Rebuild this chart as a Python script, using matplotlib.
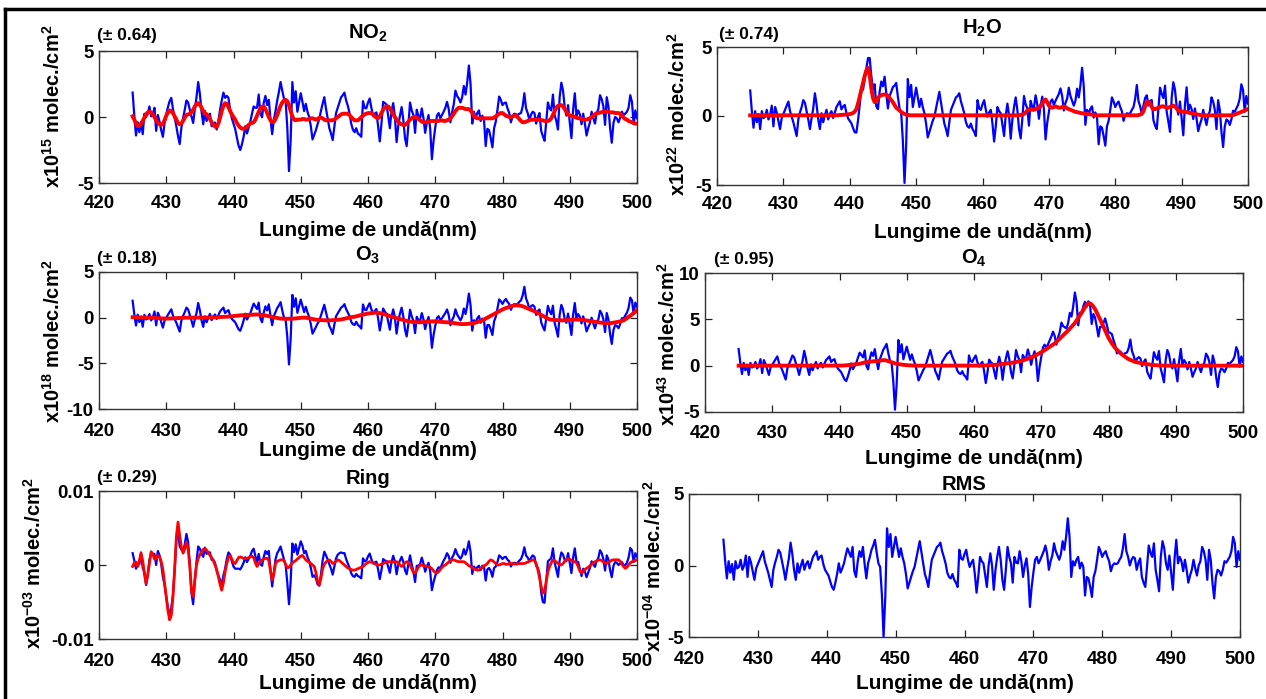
import numpy as np
import matplotlib
matplotlib.use("Agg")
import matplotlib.pyplot as plt
from matplotlib.lines import Line2D

plt.rcParams['font.family'] = ['Liberation Sans', 'DejaVu Sans']
plt.rcParams['font.weight'] = 'bold'
plt.rcParams['mathtext.fontset'] = 'custom'
plt.rcParams['mathtext.rm'] = 'Liberation Sans:bold'
plt.rcParams['mathtext.bf'] = 'Liberation Sans:bold'
plt.rcParams['mathtext.it'] = 'Liberation Sans:bold'
plt.rcParams['mathtext.default'] = 'rm'
plt.rcParams['axes.unicode_minus'] = False

# ---------------- data ----------------
# wavelength grid, 425 .. 500 nm every 0.25 nm
WAVELENGTH = np.linspace(425.0, 500.0, 301)

# residual of the fit (RMS panel, x10^-4), one row per nm
RESIDUAL = [
    1.8, 0.3, -0.9, 0.3,
    -0.5, 0.1, -1.0, 0.3,
    -0.2, -0.1, 0.4, -0.3,
    0.0, 0.7, -0.8, 0.6,
    0.2, -0.4, -1.0, -0.2,
    0.1, 0.4, 0.7, 1.0,
    0.3, -0.1, -0.5, -1.0,
    -1.5, -0.3, 0.2, 0.6,
    1.1, 0.9, 0.3, -0.3,
    -1.0, -0.2, 0.5, 1.6,
    0.8, -0.3, -1.0, 0.15,
    -0.5, 0.0, 0.4, -0.3,
    0.1, 0.3, -0.2, 0.2,
    0.6, 0.8, 1.0, 0.4,
    0.6, 0.7, 0.1, -0.3,
    -0.5, -0.7, -1.1, -1.5,
    -1.7, -1.2, -0.6, 0.15,
    -0.5, -0.2, 0.15, 0.7,
    1.2, 0.9, 0.6, 1.3,
    -0.4, -0.8, 0.3, 1.0,
    0.6, 1.3, 0.1, -0.9,
    0.15, 0.6, 1.1, 1.4,
    1.8, 0.9, 0.15, -0.1,
    -2.0, -5.0, -2.2, 2.6,
    1.3, 2.2, 0.6, 1.3,
    2.0, 1.3, 0.6, 1.2,
    0.6, 0.15, -0.6, -1.6,
    -1.2, -0.8, -0.4, -0.1,
    0.5, 1.1, 1.7, 0.9,
    0.15, -0.6, -1.0, -1.5,
    -0.5, 0.4, 0.7, 1.0,
    1.3, 1.4, 1.6, 1.0,
    0.6, 0.15, -0.5, -0.8,
    -0.9, -0.6, -1.0, -1.2,
    -1.5, 1.1, 0.5, 0.4,
    0.8, 1.1, 0.4, -0.1,
    0.2, 0.4, -0.6, -1.9,
    -0.8, 0.6, 0.3, 0.15,
    -0.7, -1.5, 0.0, 0.85,
    0.0, -1.7, -0.3, 0.6,
    1.3, 0.4, -1.0, -1.7,
    -0.3, 1.3, 0.6, 0.15,
    -1.2, 0.6, 0.2, 0.15,
    1.0, 0.3, -0.8, 0.0,
    0.5, -0.6, -2.9, -1.5,
    -0.5, 0.4, 0.6, 0.15,
    0.4, 0.7, 1.0, 1.4,
    0.8, -0.3, 0.3, 0.7,
    1.55, 1.0, 0.7, 0.4,
    0.8, 1.7, 1.1, 2.0,
    3.3, 2.0, -0.8, 0.3,
    0.0, 0.4, 0.6, -0.2,
    0.2, -0.1, -2.1, -0.8,
    -0.9, -1.5, -2.2, -0.8,
    -0.4, 0.4, 1.3, 1.0,
    0.6, 0.85, 1.0, 0.6,
    0.3, -0.4, 0.0, 0.15,
    0.1, 0.15, 0.4, 0.6,
    1.2, 2.2, 1.0, 0.6,
    0.0, 0.4, 0.6, 0.5,
    -0.3, 0.2, 0.5, -0.8,
    -1.2, -1.5, -0.1, 1.4,
    0.9, 0.6, 1.55, -0.3,
    -1.0, -1.8, 0.6, 1.7,
    1.2, 0.15, -0.3, 0.7,
    -0.5, -1.7, 0.5, 1.8,
    0.15, 0.6, 0.3, -0.4,
    0.4, -0.3, -1.2, -0.7,
    -0.3, 0.4, -0.2, -0.7,
    0.0, 0.3, 1.3, 1.0,
    0.4, -1.0, 1.1, 0.4,
    -1.2, -2.3, -0.8, -0.3,
    -0.4, -0.7, -0.3, 0.3,
    0.2, 0.4, 0.6, 1.0,
    2.0, 1.55, -0.1, 1.0,
    0.4,
]

# fitted cross sections (red curves), one row per nm
FIT_NO2 = [
    0.05, -0.2, -0.5, -0.7,
    -0.65, -0.5, -0.3, -0.05,
    0.2, 0.35, 0.4, 0.35,
    0.2, 0.0, -0.25, -0.45,
    -0.55, -0.6, -0.5, -0.25,
    0.1, 0.35, 0.5, 0.45,
    0.3, 0.05, -0.2, -0.45,
    -0.55, -0.5, -0.3, -0.05,
    0.15, 0.2, 0.25, 0.35,
    0.55, 0.8, 1.0, 1.05,
    0.95, 0.7, 0.45, 0.3,
    0.2, 0.05, -0.15, -0.4,
    -0.6, -0.72, -0.75, -0.5,
    -0.05, 0.45, 0.85, 1.05,
    1.0, 0.75, 0.45, 0.2,
    0.0, -0.2, -0.45, -0.65,
    -0.8, -0.88, -0.9, -0.85,
    -0.75, -0.6, -0.5, -0.45,
    -0.4, -0.2, 0.1, 0.4,
    0.65, 0.78, 0.8, 0.6,
    0.3, 0.0, -0.25, -0.4,
    -0.35, -0.15, 0.15, 0.5,
    0.85, 1.1, 1.25, 1.3,
    1.2, 0.9, 0.45, 0.05,
    -0.2, -0.25, -0.2, -0.2,
    -0.2, -0.15, -0.15, -0.2,
    -0.2, -0.15, -0.1, -0.1,
    -0.15, -0.2, -0.15, -0.05,
    -0.05, -0.1, -0.2, -0.25,
    -0.25, -0.25, -0.25, -0.25,
    -0.2, -0.1, 0.0, 0.1,
    0.2, 0.25, 0.25, 0.25,
    0.25, 0.15, 0.0, -0.15,
    -0.25, -0.25, -0.25, -0.15,
    0.0, 0.1, 0.2, 0.25,
    0.3, 0.3, 0.3, 0.2,
    0.05, -0.05, -0.1, 0.05,
    0.3, 0.55, 0.75, 0.8,
    0.8, 0.65, 0.45, 0.2,
    0.0, -0.2, -0.35, -0.5,
    -0.55, -0.6, -0.6, -0.5,
    -0.35, -0.2, -0.1, 0.0,
    0.0, -0.05, -0.15, -0.25,
    -0.35, -0.4, -0.4, -0.4,
    -0.35, -0.3, -0.3, -0.3,
    -0.3, -0.3, -0.3, -0.25,
    -0.25, -0.3, -0.3, -0.25,
    -0.2, -0.1, 0.05, 0.25,
    0.45, 0.6, 0.7, 0.7,
    0.7, 0.65, 0.6, 0.6,
    0.6, 0.5, 0.3, 0.1,
    -0.05, -0.1, -0.1, -0.1,
    -0.1, -0.1, -0.1, -0.1,
    -0.1, -0.1, -0.1, -0.05,
    0.05, 0.15, 0.25, 0.3,
    0.3, 0.2, 0.1, 0.05,
    0.0, 0.0, 0.05, 0.1,
    0.1, 0.0, -0.15, -0.3,
    -0.4, -0.4, -0.35, -0.3,
    -0.25, -0.2, -0.2, -0.2,
    -0.2, -0.2, -0.2, -0.25,
    -0.25, -0.3, -0.3, -0.3,
    -0.25, -0.1, 0.15, 0.45,
    0.7, 0.85, 0.9, 0.9,
    0.8, 0.6, 0.4, 0.2,
    0.1, 0.1, 0.05, 0.0,
    -0.05, -0.1, -0.1, -0.15,
    -0.15, -0.2, -0.2, -0.15,
    -0.1, 0.0, 0.1, 0.2,
    0.3, 0.3, 0.35, 0.35,
    0.4, 0.4, 0.4, 0.4,
    0.35, 0.35, 0.35, 0.3,
    0.3, 0.3, 0.25, 0.1,
    -0.05, -0.15, -0.2, -0.3,
    -0.35, -0.4, -0.45, -0.5,
    -0.5,
]

FIT_H2O = [
    0.05, 0.05, 0.05, 0.05,
    0.05, 0.05, 0.05, 0.05,
    0.05, 0.05, 0.05, 0.05,
    0.05, 0.05, 0.05, 0.05,
    0.05, 0.05, 0.05, 0.05,
    0.05, 0.05, 0.05, 0.05,
    0.05, 0.05, 0.05, 0.05,
    0.05, 0.05, 0.05, 0.05,
    0.05, 0.05, 0.05, 0.05,
    0.05, 0.05, 0.05, 0.05,
    0.05, 0.05, 0.05, 0.05,
    0.05, 0.05, 0.05, 0.05,
    0.05, 0.05, 0.05, 0.05,
    0.05, 0.06, 0.07, 0.08,
    0.09, 0.10, 0.11, 0.12,
    0.14, 0.17, 0.22, 0.32,
    0.5, 0.9, 1.4, 1.9,
    2.4, 2.9, 3.3, 3.5,
    3.0, 2.0, 1.3, 1.0,
    1.1, 1.3, 1.45, 1.5,
    1.55, 1.55, 1.55, 1.45,
    1.3, 1.15, 1.0, 0.8,
    0.6, 0.5, 0.4, 0.3,
    0.2, 0.15, 0.1, 0.08,
    0.06, 0.05, 0.05, 0.05,
    0.05, 0.05, 0.05, 0.05,
    0.05, 0.05, 0.05, 0.05,
    0.05, 0.05, 0.05, 0.05,
    0.05, 0.05, 0.05, 0.05,
    0.05, 0.05, 0.05, 0.05,
    0.05, 0.05, 0.05, 0.05,
    0.05, 0.05, 0.05, 0.05,
    0.05, 0.05, 0.05, 0.05,
    0.05, 0.05, 0.05, 0.05,
    0.05, 0.05, 0.05, 0.05,
    0.05, 0.05, 0.05, 0.05,
    0.05, 0.05, 0.05, 0.05,
    0.05, 0.05, 0.05, 0.05,
    0.05, 0.05, 0.05, 0.05,
    0.05, 0.05, 0.05, 0.05,
    0.05, 0.05, 0.06, 0.08,
    0.1, 0.15, 0.25, 0.4,
    0.5, 0.5, 0.45, 0.45,
    0.5, 0.55, 0.6, 0.75,
    0.9, 1.1, 1.2, 1.0,
    0.75, 0.65, 0.6, 0.65,
    0.7, 0.65, 0.6, 0.6,
    0.65, 0.7, 0.65, 0.55,
    0.5, 0.45, 0.4, 0.35,
    0.3, 0.28, 0.25, 0.22,
    0.2, 0.18, 0.16, 0.15,
    0.13, 0.12, 0.1, 0.08,
    0.06, 0.05, 0.05, 0.05,
    0.05, 0.05, 0.05, 0.05,
    0.05, 0.05, 0.05, 0.05,
    0.05, 0.05, 0.05, 0.05,
    0.05, 0.05, 0.05, 0.05,
    0.05, 0.05, 0.05, 0.05,
    0.05, 0.05, 0.07, 0.1,
    0.15, 0.35, 0.7, 1.0,
    1.05, 0.9, 0.65, 0.5,
    0.5, 0.55, 0.6, 0.65,
    0.7, 0.7, 0.65, 0.6,
    0.6, 0.65, 0.7, 0.75,
    0.7, 0.55, 0.4, 0.35,
    0.35, 0.3, 0.3, 0.28,
    0.25, 0.22, 0.2, 0.18,
    0.15, 0.12, 0.1, 0.08,
    0.06, 0.05, 0.05, 0.05,
    0.05, 0.05, 0.05, 0.05,
    0.05, 0.05, 0.05, 0.05,
    0.05, 0.05, 0.05, 0.05,
    0.05, 0.05, 0.06, 0.08,
    0.1, 0.15, 0.2, 0.25,
    0.3, 0.35, 0.4, 0.45,
    0.5,
]

FIT_O3 = [
    0.05, 0.05, 0.04, 0.03,
    0.02, 0.02, 0.01, 0.01,
    0.0, 0.0, 0.0, 0.0,
    0.0, -0.02, -0.04, -0.06,
    -0.07, -0.08, -0.09, -0.1,
    -0.1, -0.1, -0.09, -0.08,
    -0.07, -0.06, -0.05, -0.04,
    -0.03, -0.02, -0.01, 0.0,
    0.0, 0.0, 0.0, 0.0,
    0.0, 0.0, 0.0, 0.0,
    0.0, 0.0, 0.0, 0.0,
    0.0, 0.01, 0.02, 0.03,
    0.04, 0.05, 0.06, 0.07,
    0.08, 0.09, 0.1, 0.1,
    0.1, 0.12, 0.14, 0.16,
    0.18, 0.2, 0.22, 0.24,
    0.26, 0.27, 0.28, 0.29,
    0.3, 0.31, 0.32, 0.33,
    0.34, 0.35, 0.35, 0.34,
    0.32, 0.3, 0.27, 0.24,
    0.2, 0.16, 0.12, 0.08,
    0.04, 0.0, -0.04, -0.07,
    -0.1, -0.11, -0.12, -0.12,
    -0.12, -0.12, -0.11, -0.11,
    -0.1, -0.08, -0.06, -0.04,
    -0.02, 0.0, 0.0, 0.0,
    -0.03, -0.07, -0.11, -0.15,
    -0.2, -0.22, -0.24, -0.26,
    -0.27, -0.28, -0.29, -0.3,
    -0.3, -0.3, -0.29, -0.28,
    -0.26, -0.24, -0.22, -0.21,
    -0.2, -0.16, -0.12, -0.07,
    -0.03, 0.02, 0.06, 0.08,
    0.1, 0.15, 0.2, 0.25,
    0.3, 0.34, 0.38, 0.42,
    0.45, 0.48, 0.51, 0.53,
    0.55, 0.55, 0.53, 0.5,
    0.45, 0.4, 0.35, 0.3,
    0.25, 0.18, 0.12, 0.06,
    0.0, -0.05, -0.1, -0.15,
    -0.2, -0.25, -0.3, -0.35,
    -0.4, -0.43, -0.46, -0.48,
    -0.49, -0.5, -0.5, -0.5,
    -0.5, -0.48, -0.46, -0.44,
    -0.42, -0.41, -0.4, -0.4,
    -0.4, -0.42, -0.44, -0.46,
    -0.47, -0.48, -0.49, -0.5,
    -0.5, -0.53, -0.56, -0.6,
    -0.63, -0.66, -0.68, -0.7,
    -0.7, -0.7, -0.7, -0.68,
    -0.66, -0.64, -0.62, -0.58,
    -0.54, -0.48, -0.42, -0.36,
    -0.3, -0.2, -0.1, 0.0,
    0.1, 0.2, 0.3, 0.4,
    0.5, 0.6, 0.7, 0.8,
    0.9, 0.98, 1.05, 1.12,
    1.2, 1.25, 1.3, 1.33,
    1.35, 1.35, 1.33, 1.3,
    1.25, 1.18, 1.1, 1.02,
    0.95, 0.86, 0.78, 0.7,
    0.6, 0.5, 0.4, 0.3,
    0.2, 0.1, 0.0, -0.1,
    -0.2, -0.22, -0.24, -0.26,
    -0.27, -0.28, -0.29, -0.3,
    -0.3, -0.29, -0.27, -0.25,
    -0.22, -0.2, -0.2, -0.2,
    -0.2, -0.21, -0.22, -0.23,
    -0.25, -0.28, -0.31, -0.34,
    -0.37, -0.4, -0.43, -0.47,
    -0.5, -0.52, -0.54, -0.56,
    -0.57, -0.58, -0.59, -0.6,
    -0.6, -0.58, -0.55, -0.52,
    -0.5, -0.45, -0.4, -0.35,
    -0.3, -0.18, -0.05, 0.08,
    0.2, 0.35, 0.5, 0.65,
    0.8,
]

FIT_O4 = [
    0.0, 0.0, 0.0, 0.0,
    0.0, 0.0, 0.0, 0.0,
    0.0, 0.0, 0.0, 0.0,
    0.0, 0.0, 0.0, 0.0,
    0.0, 0.0, 0.0, 0.0,
    0.0, 0.0, 0.0, 0.0,
    0.0, 0.0, 0.0, 0.0,
    0.0, 0.0, 0.0, 0.0,
    0.0, 0.0, 0.0, 0.0,
    0.0, 0.0, 0.0, 0.0,
    0.0, 0.0, 0.0, 0.0,
    0.0, 0.0, 0.0, 0.0,
    0.0, 0.0, 0.0, 0.0,
    0.0, 0.0, 0.0, 0.0,
    0.0, 0.0, 0.0, 0.0,
    0.0, 0.0, 0.01, 0.02,
    0.04, 0.06, 0.08, 0.10,
    0.12, 0.14, 0.16, 0.18,
    0.2, 0.25, 0.3, 0.35,
    0.38, 0.4, 0.42, 0.44,
    0.45, 0.48, 0.5, 0.52,
    0.55, 0.58, 0.6, 0.6,
    0.55, 0.48, 0.42, 0.36,
    0.3, 0.25, 0.2, 0.17,
    0.14, 0.11, 0.09, 0.07,
    0.05, 0.04, 0.03, 0.02,
    0.01, 0.0, 0.0, 0.0,
    0.0, 0.0, 0.0, 0.0,
    0.0, 0.0, 0.0, 0.0,
    0.0, 0.0, 0.0, 0.0,
    0.0, 0.0, 0.0, 0.0,
    0.0, 0.0, 0.0, 0.0,
    0.0, 0.0, 0.0, 0.0,
    0.0, 0.0, 0.0, 0.0,
    0.0, 0.0, 0.0, 0.0,
    0.0, 0.0, 0.0, 0.0,
    0.0, 0.01, 0.02, 0.03,
    0.05, 0.05, 0.06, 0.07,
    0.08, 0.09, 0.1, 0.12,
    0.15, 0.18, 0.2, 0.23,
    0.26, 0.28, 0.31, 0.33,
    0.35, 0.39, 0.43, 0.46,
    0.5, 0.56, 0.62, 0.68,
    0.75, 0.82, 0.9, 0.97,
    1.05, 1.15, 1.25, 1.35,
    1.45, 1.55, 1.67, 1.78,
    1.9, 2.02, 2.15, 2.27,
    2.4, 2.57, 2.75, 2.92,
    3.1, 3.27, 3.45, 3.62,
    3.8, 4.0, 4.2, 4.4,
    4.6, 4.87, 5.15, 5.42,
    5.7, 6.0, 6.3, 6.55,
    6.75, 6.72, 6.6, 6.38,
    6.1, 5.75, 5.35, 5.0,
    4.6, 4.2, 3.8, 3.4,
    3.0, 2.7, 2.4, 2.15,
    1.9, 1.72, 1.55, 1.37,
    1.2, 1.07, 0.95, 0.82,
    0.7, 0.62, 0.55, 0.47,
    0.4, 0.36, 0.32, 0.28,
    0.25, 0.22, 0.18, 0.15,
    0.12, 0.1, 0.08, 0.06,
    0.05, 0.04, 0.03, 0.02,
    0.01, 0.01, 0.0, 0.0,
    0.0, 0.0, 0.0, 0.0,
    0.0, 0.0, 0.0, 0.0,
    0.0, 0.0, 0.0, 0.0,
    0.0, 0.0, 0.0, 0.0,
    0.0, 0.0, 0.0, 0.0,
    0.0, 0.0, 0.0, 0.0,
    0.0, 0.0, 0.0, 0.0,
    0.0, 0.0, 0.0, 0.0,
    0.0, 0.0, 0.0, 0.0,
    0.0, 0.0, 0.0, 0.0,
    0.0, 0.0, 0.0, 0.0,
    0.0,
]

# Ring fit in units of 1e-3 (axis units)
FIT_RING_E3 = [
    -0.2, 0.3, 0.4, -0.2,
    0.6, 1.6, 0.6, -1.2,
    -2.5, -1.3, 0.3, 1.8,
    1.5, 0.8, 0.8, 1.3,
    1.1, 0.5, -0.6, -2.5,
    -4.3, -6.2, -7.4, -6.8,
    -4.3, -0.5, 3.8, 5.8,
    4.0, 2.4, 1.6, 2.2,
    3.1, 2.2, -0.2, -3.5,
    -4.3, -2.0, 0.0, 0.9,
    1.4, 1.8, 2.1, 2.2,
    2.0, 1.7, 1.3, 1.0,
    0.6, 0.0, -0.6, -1.6,
    -2.6, -3.4, -2.4, -0.9,
    0.2, 1.0, 1.3, 0.8,
    0.3, 0.2, 0.6, 1.0,
    1.1, 1.0, 0.9, 0.9,
    0.9, 1.0, 1.1, 1.2,
    1.0, 0.3, -0.2, 0.2,
    0.5, 0.7, 0.8, 0.9,
    0.9, 0.6, -0.8, -2.0,
    -1.2, 0.2, 0.5, 0.6,
    0.7, 0.7, 0.6, 0.1,
    -0.4, -0.3, 0.0, 0.3,
    0.45, 0.6, 0.8, 1.0,
    1.2, 1.3, 1.0, 0.7,
    0.5, 0.4, 0.2, 0.0,
    -0.2, -1.0, -2.2, -2.7,
    -1.8, -0.5, 0.1, 0.4,
    0.6, 0.7, 0.5, 0.2,
    0.3, 0.5, 0.7, 0.6,
    0.4, 0.2, 0.0, -0.2,
    -0.4, -0.5, -0.6, -0.7,
    -0.7, -0.6, -0.5, -0.4,
    -0.3, -0.2, 0.0, 0.2,
    0.35, 0.45, 0.4, 0.3,
    0.15, 0.05, 0.0, 0.0,
    0.1, 0.2, 0.3, 0.4,
    0.45, 0.45, 0.4, 0.4,
    0.45, 0.45, 0.3, 0.0,
    -0.2, 0.0, 0.3, 0.45,
    0.4, 0.0, -0.5, -1.0,
    -1.1, -0.7, -0.3, 0.0,
    0.0, -0.1, -0.1, -0.2,
    -0.2, -0.3, -0.5, -0.8,
    -1.0, -1.1, -0.9, -0.6,
    -0.3, -0.1, 0.0, 0.2,
    0.4, 0.6, 0.7, 0.7,
    0.6, 0.5, 0.45, 0.45,
    0.45, 0.45, 0.3, 0.1,
    -0.1, -0.2, -0.4, -0.5,
    -0.6, -0.7, -0.7, -0.5,
    -0.3, -0.1, 0.0, 0.2,
    0.5, 0.7, 0.6, 0.4,
    0.2, 0.0, 0.0, 0.1,
    0.2, 0.2, 0.1, 0.1,
    0.2, 0.2, 0.2, 0.15,
    0.1, 0.15, 0.2, 0.2,
    0.2, 0.2, 0.3, 0.4,
    0.5, 0.6, 0.7, 0.6,
    0.2, -0.6, -1.7, -2.9,
    -3.8, -3.6, -2.2, -0.9,
    -0.2, 0.3, 0.7, 0.6,
    0.4, 0.2, 0.05, 0.0,
    0.2, 0.5, 0.8, 0.9,
    0.8, 0.6, 0.5, 0.45,
    0.3, -0.2, -0.8, -1.1,
    -0.9, -0.6, -0.45, -0.3,
    -0.1, 0.1, 0.3, 0.45,
    0.55, 0.65, 0.7, 0.6,
    0.4, 0.25, 0.2, 0.35,
    0.5, 0.65, 0.7, 0.7,
    0.7, 0.7, 0.5, 0.1,
    -0.2, -0.45, -0.3, 0.0,
    0.3, 0.45, 0.5, 0.6,
    0.7,
]

for _arr in (RESIDUAL, FIT_NO2, FIT_H2O, FIT_O3, FIT_O4, FIT_RING_E3):
    assert len(_arr) == len(WAVELENGTH), len(_arr)

X_TICKS = [420, 430, 440, 450, 460, 470, 480, 490, 500]
ERRORS = ['(± 0.64)', '(± 0.74)', '(± 0.18)', '(± 0.95)', '(± 0.29)', None]
TITLES = ['NO$_2$', 'H$_2$O', 'O$_3$', 'O$_4$', 'Ring', 'RMS']
Y_LABELS = ['x10$^{15}$ molec./cm$^2$', 'x10$^{22}$ molec./cm$^2$',
            'x10$^{18}$ molec./cm$^2$', 'x10$^{43}$ molec./cm$^2$',
            'x10$^{-03}$ molec./cm$^2$', 'x10$^{-04}$ molec./cm$^2$']
Y_TICKS = [[-5, 0, 5], [-5, 0, 5], [-10, -5, 0, 5], [-5, 0, 5, 10],
           [-0.01, 0, 0.01], [-5, 0, 5]]
Y_TICK_LABELS = [['-5', '0', '5'], ['-5', '0', '5'], ['-10', '-5', '0', '5'],
                 ['-5', '0', '5', '10'], ['-0.01', '0', '0.01'], ['-5', '0', '5']]

# ---------------- layout (pixels) ----------------
W, H = 1266, 699
BLUE = '#0000FF'
RED = '#FF0000'

LAYOUT = [
    # box (l, t, r, b), ylabel (right, center), title baseline, err (x, baseline), tick gap, xlabel top
    dict(box=(99, 51, 637, 183), ylab=(64, 106), title=(368, 39), err=(97, 40), gap=19, xlab=221),
    dict(box=(717, 47, 1248, 185), ylab=(689, 114), title=(982, 34), err=(719, 39), gap=18, xlab=223),
    dict(box=(99, 272, 637, 409), ylab=(64, 341), title=(368, 261), err=(97, 263), gap=21, xlab=441),
    dict(box=(705, 273, 1243, 412), ylab=(679, 344), title=(974, 264), err=(714, 264), gap=20, xlab=449),
    dict(box=(99, 491, 637, 639), ylab=(45, 563), title=(368, 484), err=(97, 482), gap=21, xlab=674),
    dict(box=(689, 494, 1240, 637), ylab=(665, 566), title=(964, 490), err=None, gap=21, xlab=674),
]

fig = plt.figure(figsize=(W / 100, H / 100), dpi=100)
fig.patch.set_facecolor('white')

wl = np.asarray(WAVELENGTH)
res = np.asarray(RESIDUAL)
series = [
    (np.asarray(FIT_NO2), 1.0),
    (np.asarray(FIT_H2O), 1.0),
    (np.asarray(FIT_O3), 1.0),
    (np.asarray(FIT_O4), 1.0),
    (np.asarray(FIT_RING_E3), 1e-3),
    (None, 1.0),
]
YLIMS = [(-5, 5), (-5, 5), (-10, 5), (-5, 10), (-0.01, 0.01), (-5, 5)]

for i, lay in enumerate(LAYOUT):
    l, t, r, b = lay['box']
    ax = fig.add_axes([l / W, 1 - b / H, (r - l) / W, (b - t) / H])
    fit, scale = series[i]
    if fit is None:
        ax.plot(wl, res * scale, color=BLUE, lw=1.6)
    else:
        ax.plot(wl, (fit + res) * scale, color=BLUE, lw=1.6)
        ax.plot(wl, fit * scale, color=RED, lw=2.0 if i == 4 else 2.8)
    ax.set_xlim(420, 500)
    ax.set_ylim(*YLIMS[i])
    ax.set_xticks(X_TICKS)
    ax.set_xticklabels([str(v) for v in X_TICKS])
    ax.set_yticks(Y_TICKS[i])
    ax.set_yticklabels(Y_TICK_LABELS[i])
    pad_x = max(lay['gap'] - 6.7, 1) * 0.72
    ax.tick_params(axis='both', direction='in', top=True, right=True,
                   length=5, width=0.9, labelsize=13.5, colors='#222222',
                   labelcolor='black')
    ax.tick_params(axis='x', pad=pad_x)
    ax.tick_params(axis='y', pad=4)
    for lab in ax.get_xticklabels() + ax.get_yticklabels():
        lab.set_fontweight('bold')
    for sp in ax.spines.values():
        sp.set_linewidth(1.0)
        sp.set_color('#333333')

    ax.set_xlabel('Lungime de undă(nm)', fontsize=15, fontweight='bold')
    ax.xaxis.set_label_coords(0.5, (b - lay['xlab']) / (b - t))
    ax.set_ylabel(Y_LABELS[i], fontsize=14.5, fontweight='bold')
    yr, yc = lay['ylab']
    ax.yaxis.set_label_coords((yr - l) / (r - l), (b - yc) / (b - t))

    tx, ty = lay['title']
    fig.text(tx / W, 1 - ty / H, TITLES[i], fontsize=14.5, fontweight='bold',
             ha='center', va='baseline')
    if lay['err'] is not None:
        ex, ey = lay['err']
        fig.text(ex / W, 1 - ey / H, ERRORS[i], fontsize=12.5, fontweight='bold',
                 ha='left', va='baseline')

# outer frame
fig.add_artist(Line2D([5 / W, 5 / W], [0, 1 - 9 / H], transform=fig.transFigure,
                      color='black', lw=2.5))
fig.add_artist(Line2D([5 / W, 1.0], [1 - 9 / H, 1 - 9 / H], transform=fig.transFigure,
                      color='black', lw=2.5))

fig.savefig('out.png', dpi=100, facecolor='white')
